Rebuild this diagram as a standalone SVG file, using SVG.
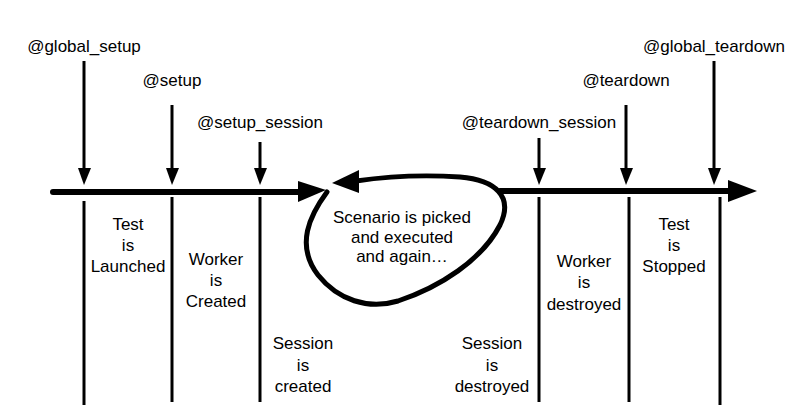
<svg xmlns="http://www.w3.org/2000/svg" width="796" height="410" viewBox="0 0 796 410">
<style>
text{font-family:"Liberation Sans",Arial,sans-serif;font-size:17px;fill:#000;text-anchor:middle}
.v{stroke:#000;stroke-width:3;fill:none}
.m{stroke:#000;stroke-width:6;fill:none;stroke-linecap:round}
.h{fill:#000}
</style>
<rect width="796" height="410" fill="#fff"/>
<g id="connectors">
<line class="m" x1="53" y1="192" x2="303" y2="192"/>
<polygon class="h" points="298,181 326,190 298,202"/>
<line class="m" x1="500" y1="191" x2="732" y2="191"/>
<polygon class="h" points="728,180 757,191 728,202"/>
<line class="v" x1="84" y1="61" x2="84" y2="172"/>
<polygon class="h" points="78,168 84,185 91,168"/>
<line class="v" x1="172" y1="105" x2="172" y2="172"/>
<polygon class="h" points="166,168 172,185 179,168"/>
<line class="v" x1="260" y1="142" x2="260" y2="172"/>
<polygon class="h" points="254,168 260,185 267,168"/>
<line class="v" x1="539" y1="138" x2="539" y2="172"/>
<polygon class="h" points="533,168 539,185 546,168"/>
<line class="v" x1="626" y1="105" x2="626" y2="172"/>
<polygon class="h" points="620,168 626,185 633,168"/>
<line class="v" x1="714" y1="61" x2="714" y2="172"/>
<polygon class="h" points="708,168 714,185 721,168"/>
<line class="v" x1="84" y1="201" x2="84" y2="405"/>
<line class="v" x1="172" y1="197" x2="172" y2="402"/>
<line class="v" x1="260" y1="197" x2="260" y2="402"/>
<line class="v" x1="539" y1="197" x2="539" y2="402"/>
<line class="v" x1="629" y1="197" x2="629" y2="402"/>
<line class="v" x1="720" y1="197" x2="720" y2="405"/>
</g>
<g id="loop">
<path d="M327,192 C310,215 295,245 318,275 C338,300 368,310 398,301 C440,287 482,260 500,225 C514,196 495,180 460,177 C430,175 390,176 356,181" stroke="#000" stroke-width="5" fill="none" stroke-linecap="round"/>
<polygon class="h" points="332,183 359,170 359,193"/>
<text x="402" y="223">Scenario is picked</text>
<text x="402" y="243">and executed</text>
<text x="402" y="262">and again…</text>
</g>
<g id="hooks">
<text x="84" y="52">@global_setup</text>
<text x="172" y="86">@setup</text>
<text x="260" y="128">@setup_session</text>
<text x="539" y="128">@teardown_session</text>
<text x="626" y="86">@teardown</text>
<text x="714" y="52">@global_teardown</text>
</g>
<g id="phases">
<text x="128" y="230">Test</text><text x="128" y="251">is</text><text x="128" y="272">Launched</text>
<text x="216" y="265">Worker</text><text x="216" y="286">is</text><text x="216" y="307">Created</text>
<text x="303" y="349">Session</text><text x="303" y="371">is</text><text x="303" y="392">created</text>
<text x="492" y="349">Session</text><text x="492" y="371">is</text><text x="492" y="392">destroyed</text>
<text x="584" y="267">Worker</text><text x="584" y="288">is</text><text x="584" y="310">destroyed</text>
<text x="674" y="230">Test</text><text x="674" y="251">is</text><text x="674" y="272">Stopped</text>
</g>
</svg>
